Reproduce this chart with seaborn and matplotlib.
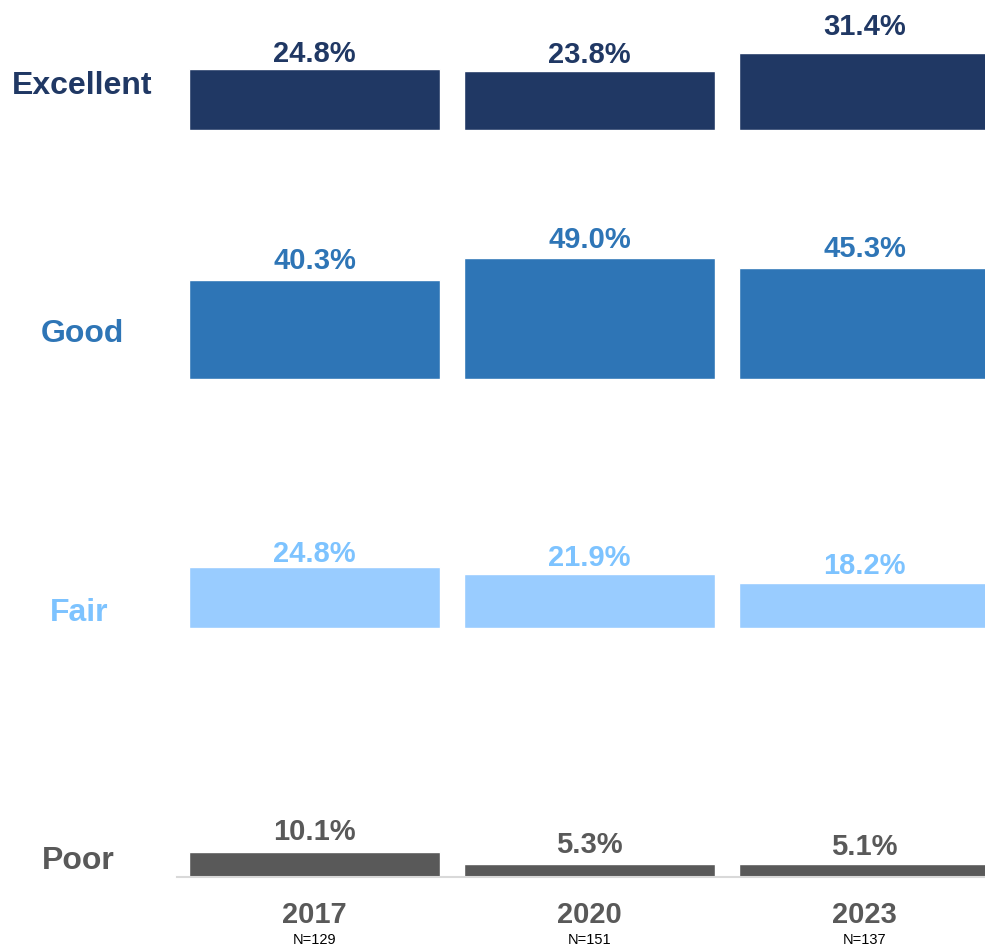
import matplotlib
matplotlib.use("Agg")
import matplotlib.pyplot as plt
import matplotlib.transforms as mtransforms
import pandas as pd
import seaborn as sns

years = ["2017", "2020", "2023"]
sample_sizes = ["N=129", "N=151", "N=137"]
ratings = ["Excellent", "Good", "Fair", "Poor"]
excellent = [24.8, 23.8, 31.4]
good = [40.3, 49.0, 45.3]
fair = [24.8, 21.9, 18.2]
poor = [10.1, 5.3, 5.1]
colors = ["#203864", "#2E75B6", "#99CCFF", "#595959"]
text_colors = ["#203864", "#2E75B6", "#7DC3FF", "#595959"]

sns.set_theme(style="white")
plt.rcParams["font.family"] = ["Liberation Sans", "DejaVu Sans"]

W, H = 985, 952
fig = plt.figure(figsize=(W / 100, H / 100), dpi=100)

baselines = [130, 379, 628, 877]        # pixel y of each row's baseline
label_pos = [(82, 86), (82, 334), (79, 613), (78, 861)]
# gap (px) from bar top to value-label centre, as in the original slide
label_gaps = [[15, 16, 26], [19, 18, 19], [13, 16, 17], [20, 19, 17]]
px_per_pct = 2.46
ax_left, ax_w = 177, 825

for i, (name, vals) in enumerate(zip(ratings, [excellent, good, fair, poor])):
    h_px = 100 * px_per_pct
    ax = fig.add_axes([ax_left / W, 1 - baselines[i] / H, ax_w / W, h_px / H])
    df = pd.DataFrame({"year": years, "value": vals})
    sns.barplot(data=df, x="year", y="value", color=colors[i], width=0.91,
                saturation=1, ax=ax)
    ax.set_xlim(-0.5, 2.5)
    ax.set_ylim(0, 100)
    for j, bar in enumerate(ax.containers[0]):
        ax.annotate(f"{vals[j]:.1f}%",
                    (bar.get_x() + bar.get_width() / 2, bar.get_height()),
                    xytext=(0, label_gaps[i][j] * 0.72), textcoords="offset points",
                    ha="center", va="center", fontsize=21, fontweight="bold",
                    color=text_colors[i])
    ax.set_xlabel("")
    ax.set_ylabel("")
    ax.set_yticks([])
    ax.patch.set_alpha(0)
    for s in ["top", "right", "left"]:
        ax.spines[s].set_visible(False)
    if i < 3:
        ax.spines["bottom"].set_visible(False)
        ax.set_xticks([])
    else:
        ax.spines["bottom"].set_color("#D9D9D9")
        ax.spines["bottom"].set_linewidth(1.5)
        ax.set_xticks(range(len(years)))
        ax.set_xticklabels(years, fontsize=21, fontweight="bold", color="#595959")
        ax.tick_params(axis="x", length=0, pad=17)
        trans = mtransforms.blended_transform_factory(ax.transData, fig.transFigure)
        for j, n in enumerate(sample_sizes):
            ax.text(j, 1 - 940 / H, n, transform=trans, ha="center", va="center",
                    fontsize=10.5, color="#000000")
    fig.text(label_pos[i][0] / W, 1 - label_pos[i][1] / H, name, ha="center",
             va="center", fontsize=23, fontweight="bold", color=text_colors[i])

fig.savefig("out.png", dpi=100)
